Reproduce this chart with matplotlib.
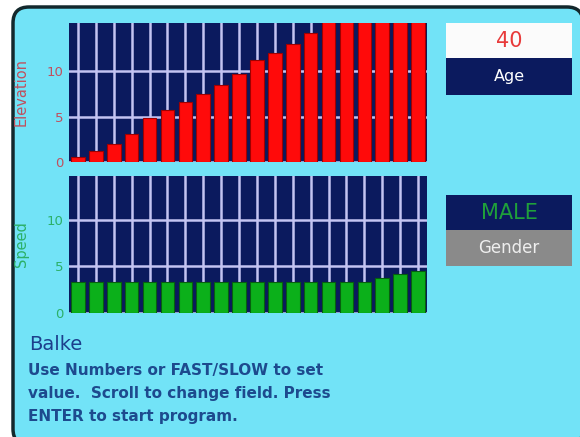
#!/usr/bin/env python3
"""
Balke treadmill program screen: elevation / speed profile
"""

import matplotlib
matplotlib.use("Agg")
import matplotlib.pyplot as plt
from matplotlib.patches import FancyBboxPatch, Rectangle
import numpy as np

# 数据 (per-minute stage profile)
stages = list(range(1, 21))
elevation = [0.6, 1.2, 2.0, 3.1, 4.8, 5.7, 6.6, 7.5, 8.5, 9.7,
             11.2, 12.0, 13.0, 14.2, 16, 16, 16, 16, 16, 16]
speed = [3.3, 3.3, 3.3, 3.3, 3.3, 3.3, 3.3, 3.3, 3.3, 3.3,
         3.3, 3.3, 3.3, 3.3, 3.3, 3.3, 3.3, 3.8, 4.2, 4.5]
yticks = [0, 5, 10]

age_value = "40"
gender_value = "MALE"
title = "Balke"
help_lines = ["Use Numbers or FAST/SLOW to set",
              "value.  Scroll to change field. Press",
              "ENTER to start program."]

# 颜色
BG = "#72e3f7"
NAVY = "#0b1a5e"
GRID = "#c4c4f2"
W, H = 580, 437

fig = plt.figure(figsize=(W / 100, H / 100), dpi=100, facecolor="white")

# 背景层 (像素坐标)
bg = fig.add_axes([0, 0, 1, 1], zorder=0)
bg.set_xlim(0, W)
bg.set_ylim(H, 0)
bg.axis("off")
frame = FancyBboxPatch((13, 7), 570, 438, boxstyle="round,pad=0,rounding_size=16",
                       fc=BG, ec="#13282c", lw=2.5, clip_on=True)
bg.add_patch(frame)

# 右侧字段框
bg.add_patch(Rectangle((446, 23), 126, 35, fc="#fbfbfb", ec="none"))
bg.add_patch(Rectangle((446, 58), 126, 37, fc=NAVY, ec="none"))
bg.add_patch(Rectangle((446, 195), 126, 35, fc=NAVY, ec="none"))
bg.add_patch(Rectangle((446, 230), 126, 36, fc="#8a8a8a", ec="none"))
bg.text(509, 41, age_value, color="#e83a3a", fontsize=15, ha="center", va="center")
bg.text(509, 77, "Age", color="white", fontsize=11.5, ha="center", va="center")
bg.text(509, 213, gender_value, color="#1fa03a", fontsize=15, ha="center", va="center")
bg.text(509, 248, "Gender", color="#eeeeee", fontsize=12, ha="center", va="center")

# 底部说明文字
bg.text(29, 350, title, color="#1c3f8c", fontsize=14, ha="left", va="baseline")
for i, line in enumerate(help_lines):
    bg.text(28, 375 + i * 23, line, color="#1d4a8e", fontsize=11, fontweight="bold",
            ha="left", va="baseline")


def bar_panel(rect, values, color, edge, label, label_color, ylim):
    ax = fig.add_axes(rect, zorder=1)
    x = np.arange(len(values))
    ax.set_facecolor(NAVY)
    ax.set_axisbelow(True)
    ax.bar(x, values, width=0.76, color=color, edgecolor=edge, linewidth=0.8)
    ax.set_xlim(-0.5, len(values) - 0.5)
    ax.set_ylim(0, ylim)
    ax.set_xticks(x)
    ax.set_xticklabels([])
    ax.set_yticks(yticks)
    ax.set_yticklabels([str(t) for t in yticks])
    ax.tick_params(axis="both", length=0, pad=4, labelsize=9.5, labelcolor=label_color)
    ax.grid(True, color=GRID, linewidth=1.8)
    for s in ax.spines.values():
        s.set_visible(False)
    ax.set_ylabel(label, color=label_color, fontsize=10.5)
    ax.yaxis.set_label_coords(-0.113, 0.5)
    return ax


ax1 = bar_panel([69 / W, 1 - 162 / H, 358 / W, 139 / H], elevation, "#ff0a0a", "#a00000",
                "Elevation", "#c0505e", 15.3)
ax2 = bar_panel([69 / W, 1 - 313 / H, 358 / W, 137 / H], speed, "#0bb01a", "#06600e",
                "Speed", "#2cb068", 14.7)

plt.savefig("out.png", dpi=100, facecolor="white")
plt.close()
